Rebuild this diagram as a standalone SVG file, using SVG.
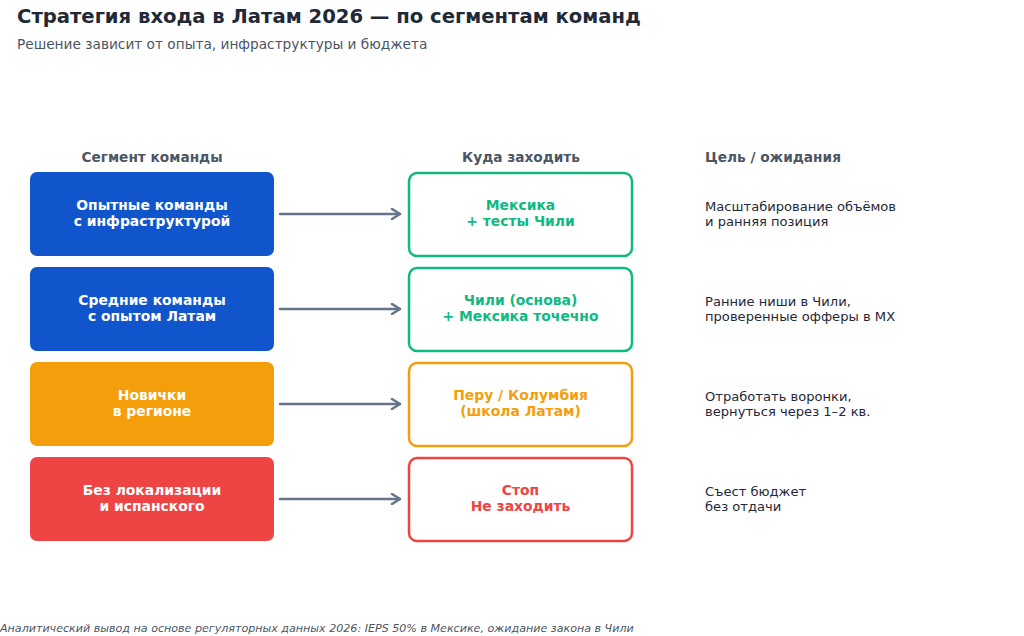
<svg xmlns="http://www.w3.org/2000/svg" width="1024" height="636" viewBox="0 0 1024 636">
<defs>
<style>
text{font-family:"DejaVu Sans","Liberation Sans",sans-serif}
.title{font-size:19.6px;font-weight:bold;fill:#1f2937}
.sub{font-size:13.7px;fill:#4b5563}
.hdr{font-size:13.7px;font-weight:bold;fill:#4b5563}
.seg{fill:#ffffff;font-size:13.9px;font-weight:bold;text-anchor:middle}
.dst{font-size:13.9px;font-weight:bold;text-anchor:middle}
.goal{font-size:13.1px;fill:#1f2937}
.foot{font-size:11.1px;font-style:italic;fill:#4b5563}
.conn{stroke:#64748b;stroke-width:2.5;fill:none;stroke-linecap:round}
.dbox{fill:#ffffff;stroke-width:2.5}
</style>
<marker id="ah" viewBox="0 0 12 12" refX="10" refY="6" markerWidth="12" markerHeight="12" markerUnits="userSpaceOnUse" orient="auto">
<path d="M2,1 L10,6 L2,11" fill="none" stroke="#64748b" stroke-width="2.5" stroke-linecap="round" stroke-linejoin="round"/>
</marker>
</defs>
<rect width="1024" height="636" fill="#ffffff"/>
<text class="title" x="17" y="23">Стратегия входа в Латам 2026 — по сегментам команд</text>
<text class="sub" x="17" y="49">Решение зависит от опыта, инфраструктуры и бюджета</text>
<text class="hdr" x="152" y="162" text-anchor="middle">Сегмент команды</text>
<text class="hdr" x="521" y="162" text-anchor="middle">Куда заходить</text>
<text class="hdr" x="705" y="162">Цель / ожидания</text>

<g id="connectors">
<line class="conn" x1="280" y1="214" x2="400" y2="214" marker-end="url(#ah)"/>
<line class="conn" x1="280" y1="309" x2="400" y2="309" marker-end="url(#ah)"/>
<line class="conn" x1="280" y1="404" x2="400" y2="404" marker-end="url(#ah)"/>
<line class="conn" x1="280" y1="499" x2="400" y2="499" marker-end="url(#ah)"/>
</g>

<g id="seg1"><rect x="30" y="172" width="244" height="84" rx="7" fill="#1155cc"/>
<text class="seg" x="152" y="210">Опытные команды</text><text class="seg" x="152" y="226">с инфраструктурой</text></g>
<g id="seg2"><rect x="30" y="267" width="244" height="84" rx="7" fill="#1155cc"/>
<text class="seg" x="152" y="305">Средние команды</text><text class="seg" x="152" y="321">с опытом Латам</text></g>
<g id="seg3"><rect x="30" y="362" width="244" height="84" rx="7" fill="#f59e0b"/>
<text class="seg" x="152" y="400">Новички</text><text class="seg" x="152" y="416">в регионе</text></g>
<g id="seg4"><rect x="30" y="457" width="244" height="84" rx="7" fill="#ef4444"/>
<text class="seg" x="152" y="495">Без локализации</text><text class="seg" x="152" y="511">и испанского</text></g>

<g id="dst1"><rect class="dbox" x="409" y="173" width="223" height="83" rx="8" stroke="#10b981"/>
<text class="dst" x="520.5" y="210" fill="#10b981">Мексика</text><text class="dst" x="520.5" y="226" fill="#10b981">+ тесты Чили</text></g>
<g id="dst2"><rect class="dbox" x="409" y="268" width="223" height="83" rx="8" stroke="#10b981"/>
<text class="dst" x="520.5" y="305" fill="#10b981">Чили (основа)</text><text class="dst" x="520.5" y="321" fill="#10b981">+ Мексика точечно</text></g>
<g id="dst3"><rect class="dbox" x="409" y="363" width="223" height="83" rx="8" stroke="#f59e0b"/>
<text class="dst" x="520.5" y="400" fill="#f59e0b">Перу / Колумбия</text><text class="dst" x="520.5" y="416" fill="#f59e0b">(школа Латам)</text></g>
<g id="dst4"><rect class="dbox" x="409" y="458" width="223" height="83" rx="8" stroke="#ef4444"/>
<text class="dst" x="520.5" y="495" fill="#ef4444">Стоп</text><text class="dst" x="520.5" y="511" fill="#ef4444">Не заходить</text></g>

<g id="goal1"><text class="goal" x="705" y="211">Масштабирование объёмов</text><text class="goal" x="705" y="226">и ранняя позиция</text></g>
<g id="goal2"><text class="goal" x="705" y="306">Ранние ниши в Чили,</text><text class="goal" x="705" y="321">проверенные офферы в МХ</text></g>
<g id="goal3"><text class="goal" x="705" y="401">Отработать воронки,</text><text class="goal" x="705" y="416">вернуться через 1–2 кв.</text></g>
<g id="goal4"><text class="goal" x="705" y="496">Съест бюджет</text><text class="goal" x="705" y="511">без отдачи</text></g>

<text class="foot" x="0" y="632">Аналитический вывод на основе регуляторных данных 2026: IEPS 50% в Мексике, ожидание закона в Чили</text>
</svg>
